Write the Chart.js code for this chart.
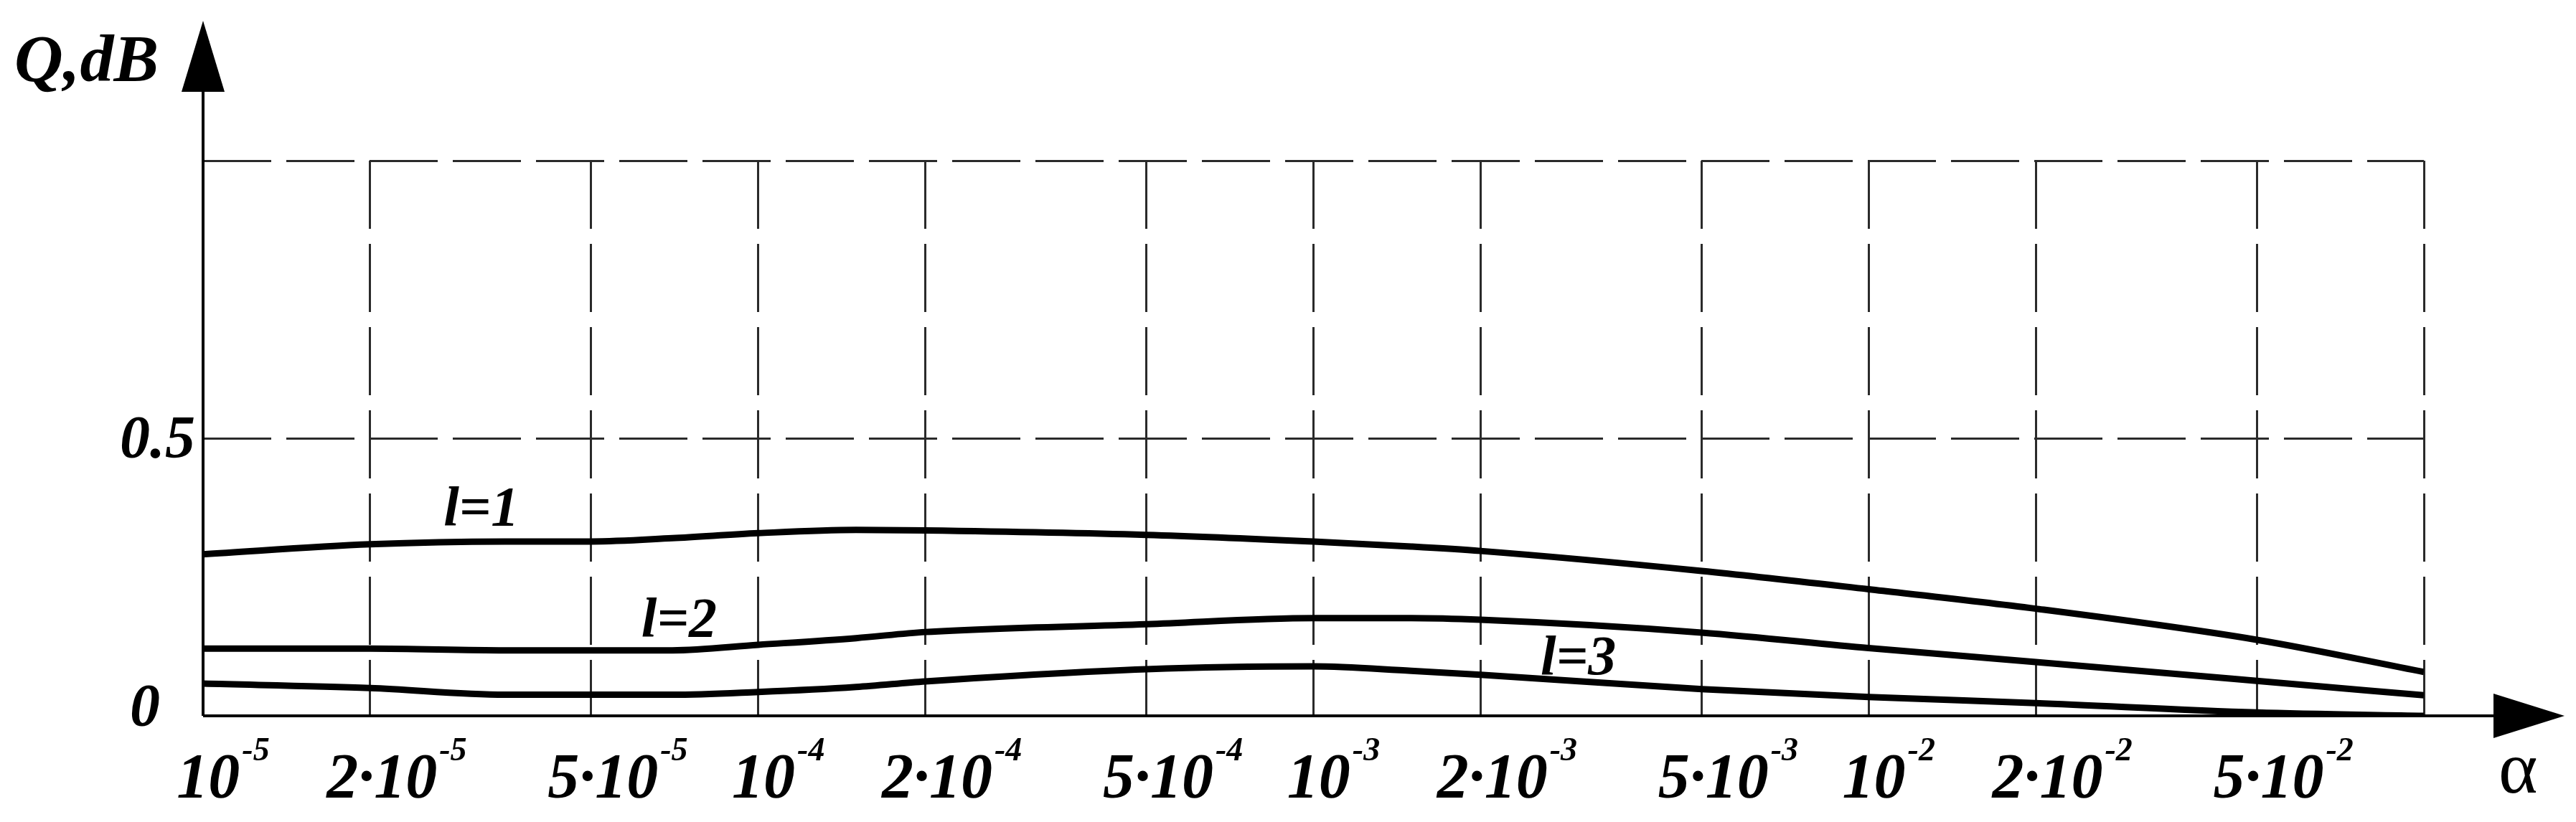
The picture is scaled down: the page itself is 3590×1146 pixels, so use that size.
<!DOCTYPE html>
<html>
<head>
<meta charset="utf-8">
<script src="https://cdn.jsdelivr.net/npm/chart.js@4.4.1/dist/chart.umd.min.js"></script>
<style>
  html, body { margin: 0; padding: 0; background: #fff; }
  #wrap { width: 3590px; height: 1146px; }
</style>
</head>
<body>
<div id="wrap"><canvas id="qChart" width="3590" height="1146"></canvas></div>
<script>
// alpha values (x, log scale) and Q in dB for the three curves
const alpha = [1e-5, 2e-5, 3.5e-5, 5e-5, 7e-5, 1e-4, 1.5e-4, 2e-4, 5e-4, 1e-3, 1.5e-3, 2e-3, 5e-3, 1e-2, 2e-2, 5e-2, 1e-1];
const qL1 = [0.291, 0.309, 0.314, 0.314, 0.320, 0.329, 0.335, 0.334, 0.326, 0.314, 0.305, 0.297, 0.261, 0.228, 0.193, 0.137, 0.079];
const qL2 = [0.121, 0.121, 0.118, 0.118, 0.118, 0.128, 0.140, 0.151, 0.165, 0.176, 0.176, 0.173, 0.150, 0.122, 0.097, 0.063, 0.037];
const qL3 = [0.058, 0.050, 0.038, 0.038, 0.038, 0.043, 0.052, 0.062, 0.084, 0.089, 0.081, 0.074, 0.048, 0.034, 0.023, 0.006, 0.000];

const seriesNames = ['l=1', 'l=2', 'l=3'];
const nameAlpha = [3.17e-5, 7.2e-5, 3.0e-3];
const nameQ = [0.344, 0.143, 0.075];

const xTicks = [1e-5, 2e-5, 5e-5, 1e-4, 2e-4, 5e-4, 1e-3, 2e-3, 5e-3, 1e-2, 2e-2, 5e-2, 1e-1];
const xTickBase = ['10', '2·10', '5·10', '10', '2·10', '5·10', '10', '2·10', '5·10', '10', '2·10', '5·10', ''];
const xTickExp = ['-5', '-5', '-5', '-4', '-4', '-4', '-3', '-3', '-3', '-2', '-2', '-2', ''];
const yTicks = [0, 0.5, 1];
const yTickLabels = ['0', '0.5', ''];

const SERIF = '"Liberation Serif", "Times New Roman", serif';
const INK = '#000';
const GRID = '#2a2a2a';

const toPoints = arr => arr.map((q, i) => ({ x: alpha[i], y: q }));

const axesAndText = {
  id: 'axesAndText',
  afterDraw(chart) {
    const { ctx, chartArea: a, scales: { x, y } } = chart;
    ctx.save();

    // solid axes
    ctx.strokeStyle = INK;
    ctx.lineWidth = 4;
    ctx.beginPath();
    ctx.moveTo(a.left, a.bottom);
    ctx.lineTo(a.left, a.top - 96);
    ctx.moveTo(a.left, a.bottom);
    ctx.lineTo(a.right + 97, a.bottom);
    ctx.stroke();

    // arrow heads
    ctx.fillStyle = INK;
    ctx.beginPath();
    ctx.moveTo(a.left, a.top - 195);
    ctx.lineTo(a.left - 30, a.top - 96);
    ctx.lineTo(a.left + 30, a.top - 96);
    ctx.closePath();
    ctx.fill();
    ctx.beginPath();
    ctx.moveTo(a.right + 196, a.bottom);
    ctx.lineTo(a.right + 97, a.bottom - 31);
    ctx.lineTo(a.right + 97, a.bottom + 31);
    ctx.closePath();
    ctx.fill();

    // axis titles
    ctx.textBaseline = 'alphabetic';
    ctx.textAlign = 'left';
    ctx.font = `italic bold 94px ${SERIF}`;
    ctx.fillText('Q,dB', 20, 113);
    ctx.font = `104px ${SERIF}`;
    ctx.fillText('α', a.right + 104, 1105);

    // y tick labels
    ctx.textAlign = 'right';
    ctx.font = `italic bold 84px ${SERIF}`;
    yTicks.forEach((v, i) => {
      if (!yTickLabels[i]) return;
      const py = y.getPixelForValue(v);
      const rx = v === 0 ? a.left - 60 : a.left - 11;
      const dy = v === 0 ? 14 : 27;
      ctx.fillText(yTickLabels[i], rx, py + dy);
    });

    // x tick labels with superscript exponent
    ctx.textAlign = 'left';
    xTicks.forEach((v, i) => {
      if (!xTickBase[i]) return;
      const px = x.getPixelForValue(v);
      ctx.font = `italic bold 88px ${SERIF}`;
      const wb = ctx.measureText(xTickBase[i]).width;
      ctx.font = `italic bold 46px ${SERIF}`;
      const we = ctx.measureText(xTickExp[i]).width;
      const shift = xTickBase[i] === '10' ? 28 : 37;
      const sx = px + shift - (wb + we + 3) / 2;
      ctx.font = `italic bold 88px ${SERIF}`;
      ctx.fillText(xTickBase[i], sx, a.bottom + 113);
      ctx.font = `italic bold 46px ${SERIF}`;
      ctx.fillText(xTickExp[i], sx + wb + 3, a.bottom + 62);
    });

    // curve names
    ctx.textAlign = 'center';
    ctx.font = `italic bold 78px ${SERIF}`;
    seriesNames.forEach((name, i) => {
      ctx.fillText(name, x.getPixelForValue(nameAlpha[i]), y.getPixelForValue(nameQ[i]));
    });

    ctx.restore();
  }
};

const lineStyle = {
  borderColor: INK,
  borderWidth: 9,
  pointRadius: 0,
  fill: false,
  cubicInterpolationMode: 'monotone'
};

new Chart(document.getElementById('qChart'), {
  type: 'line',
  data: {
    datasets: [
      { label: seriesNames[0], data: toPoints(qL1), ...lineStyle },
      { label: seriesNames[1], data: toPoints(qL2), ...lineStyle },
      { label: seriesNames[2], data: toPoints(qL3), ...lineStyle }
    ]
  },
  options: {
    responsive: false,
    animation: false,
    devicePixelRatio: 1,
    layout: { padding: { left: 283, right: 212, top: 224, bottom: 148 } },
    plugins: { legend: { display: false }, tooltip: { enabled: false } },
    scales: {
      x: {
        type: 'logarithmic',
        min: 1e-5,
        max: 1e-1,
        afterBuildTicks: s => { s.ticks = xTicks.map(v => ({ value: v })); },
        afterFit: s => { s.height = 0; },
        ticks: { display: false },
        grid: { color: GRID, lineWidth: 3, drawTicks: false },
        border: { display: false, dash: [95, 21] }
      },
      y: {
        type: 'linear',
        min: 0,
        max: 1,
        afterBuildTicks: s => { s.ticks = yTicks.map(v => ({ value: v })); },
        afterFit: s => { s.width = 0; },
        ticks: { display: false },
        grid: { color: GRID, lineWidth: 3, drawTicks: false },
        border: { display: false, dash: [95, 21] }
      }
    }
  },
  plugins: [axesAndText]
});
</script>
</body>
</html>
